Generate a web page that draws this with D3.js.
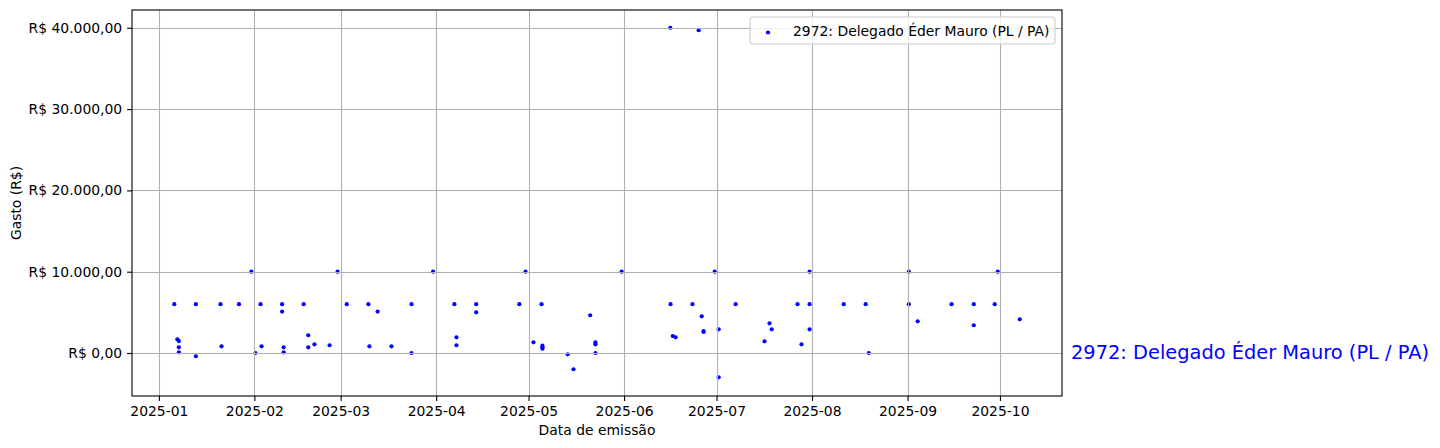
<!DOCTYPE html>
<html><head><meta charset="utf-8">
<script src="https://cdn.jsdelivr.net/npm/d3@7"></script>
<style>body{margin:0;background:#fff}svg{display:block}text{font-family:"DejaVu Sans",sans-serif}</style>
</head><body><svg id="c" width="1440" height="448"></svg>
<script>
const seriesName = "2972: Delegado Éder Mauro (PL / PA)";
const dates = ["2025-01-06","2025-01-13","2025-01-21","2025-01-27","2025-02-03","2025-02-10","2025-02-10","2025-02-17","2025-03-03","2025-03-10","2025-03-13","2025-03-24",
"2025-01-31","2025-02-28","2025-03-31","2025-01-07","2025-01-07T12:00","2025-01-07T12:00","2025-01-07T12:00","2025-01-13","2025-01-21T08:00","2025-02-01T08:00","2025-02-03T08:00","2025-02-10T12:00","2025-02-10T12:00",
"2025-02-18T12:00","2025-02-18T12:00","2025-02-20T12:00","2025-02-25T10:00","2025-03-10T08:00","2025-03-17T12:00","2025-03-24",
"2025-04-06T22:00","2025-04-14","2025-04-14","2025-04-28","2025-05-05T05:00","2025-06-16T02:00","2025-06-23T05:00","2025-07-07T05:00",
"2025-04-30","2025-05-31T05:00","2025-06-30T10:00","2025-04-07T14:00","2025-04-07T14:00","2025-05-21","2025-05-02T14:00","2025-05-05T12:00","2025-05-05T12:00","2025-05-05T12:00",
"2025-05-13T17:00","2025-05-15T14:00","2025-05-22T17:00","2025-05-22T17:00","2025-05-22T17:00","2025-06-16T19:00","2025-06-17T17:00","2025-06-26T05:00","2025-06-26T19:00","2025-06-26T19:00",
"2025-07-01T17:00","2025-07-01T17:00","2025-06-16","2025-06-25T05:00",
"2025-07-31T05:00","2025-09-01T10:00","2025-09-30T07:00","2025-07-27T07:00","2025-07-31T05:00","2025-08-11T07:00","2025-08-18T10:00","2025-09-01T10:00","2025-09-15T07:00","2025-09-22T12:00","2025-09-29T07:00",
"2025-07-18T05:00","2025-07-18T22:00","2025-07-16T14:00","2025-07-28T14:00","2025-07-31T05:00","2025-08-19T10:00","2025-09-04T07:00","2025-09-22T12:00","2025-10-07T10:00"];
const values = [6000,6000,6000,6000,6000,6000,5100,6000,6000,6000,5100,6000,
10000,10000,10000,1680,1470,700,80,-400,820,0,820,700,80,
2180,700,1070,950,820,820,0,
6000,6000,5000,6000,6000,6000,6000,6000,
10000,10000,10000,1930,950,4640,1310,900,700,530,
-160,-2000,1310,1070,0,2090,1930,4510,2700,2580,
2910,-2990,40000,39700,
10000,10000,10000,6000,6000,6000,6000,6000,6000,6000,6000,
3650,2910,1440,1070,2910,0,3900,3410,4140];
const xTicks = ["2025-01","2025-02","2025-03","2025-04","2025-05","2025-06","2025-07","2025-08","2025-09","2025-10"];
const yTicks = [0,10000,20000,30000,40000];

const parse = d3.isoParse;
const data = dates.map((d,i)=>({date:parse(d), value:values[i]}));
const L=132,R=1062,T=10,B=396;
const ext = d3.extent(data,d=>d.date);
const span = ext[1]-ext[0];
const x = d3.scaleTime().domain([new Date(+ext[0]-span*0.05), new Date(+ext[1]+span*0.05)]).range([L,R]);
const y = d3.scaleLinear().domain([-5290,42190]).range([B,T]);
const fmt = v => "R$ " + d3.format(",.2f")(v).replace(/,/g,"_").replace(".",",").replace(/_/g,".");
const svg = d3.select("#c");
const fs = 13.9;

// points
svg.append("g").selectAll("circle").data(data).join("circle")
  .attr("cx",d=>x(d.date)).attr("cy",d=>y(d.value)).attr("r",2.1).attr("fill","#0000ff");

// grid
const g = svg.append("g").attr("stroke","#b0b0b0").attr("stroke-width",1.1);
xTicks.forEach(t=>{const px=Math.round(x(parse(t+"-01")))+0.5; g.append("line").attr("x1",px).attr("x2",px).attr("y1",T).attr("y2",B);});
yTicks.forEach(t=>{const py=Math.round(y(t))+0.5; g.append("line").attr("x1",L).attr("x2",R).attr("y1",py).attr("y2",py);});

// axes
const xa = svg.append("g").attr("transform",`translate(0,${B})`)
  .call(d3.axisBottom(x).tickValues(xTicks.map(t=>parse(t+"-01"))).tickFormat(d3.timeFormat("%Y-%m")).tickSizeOuter(0).tickSize(4.9).tickPadding(4.9));
const ya = svg.append("g").attr("transform",`translate(${L},0)`)
  .call(d3.axisLeft(y).tickValues(yTicks).tickFormat(fmt).tickSizeOuter(0).tickSize(4.9).tickPadding(4.9));
[xa,ya].forEach(a=>{a.select(".domain").remove(); a.selectAll("text").attr("font-size",fs).attr("font-family","DejaVu Sans").attr("fill","#000"); a.selectAll("line").attr("stroke","#000").attr("stroke-width",1.1);});

svg.append("rect").attr("x",L).attr("y",T).attr("width",R-L).attr("height",B-T).attr("fill","none").attr("stroke","#000").attr("stroke-width",1.1);

svg.append("text").attr("x",(L+R)/2).attr("y",434.5).attr("text-anchor","middle").attr("font-size",fs).text("Data de emissão");
svg.append("text").attr("transform",`translate(20.5,${(T+B)/2}) rotate(-90)`).attr("text-anchor","middle").attr("font-size",fs).text("Gasto (R$)");

// legend
const lg = svg.append("g");
lg.append("rect").attr("x",750).attr("y",17).attr("width",305).attr("height",27).attr("rx",3).attr("fill","#fff").attr("fill-opacity",0.8).attr("stroke","#cccccc").attr("stroke-width",1.1);
lg.append("circle").attr("cx",768).attr("cy",32.5).attr("r",2.1).attr("fill","#0000ff");
lg.append("text").attr("x",793).attr("y",35.5).attr("font-size",fs).text(seriesName);

// right label
svg.append("text").attr("x",1071).attr("y",y(0)+6.5).attr("font-size",19.4).attr("fill","#0000ff").text(seriesName);
</script></body></html>
